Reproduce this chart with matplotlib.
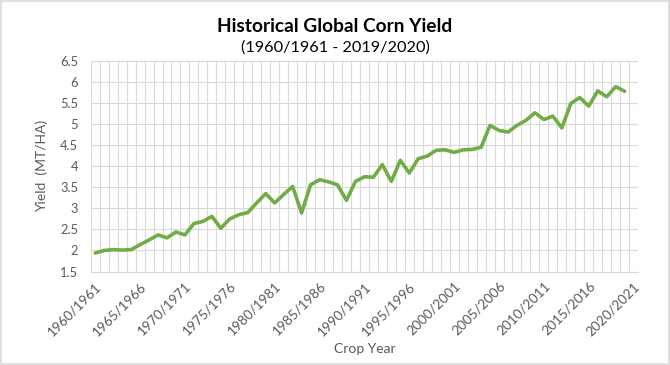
import matplotlib
matplotlib.use("Agg")
import matplotlib.pyplot as plt
from matplotlib.patches import Rectangle

plt.rcParams['font.family'] = ['Lato', 'DejaVu Sans']

crop_years = [f"{y}/{y+1}" for y in range(1960, 2021)]
yield_values = [1.94, 2.00, 2.02, 2.01, 2.02, 2.14, 2.25, 2.37, 2.30, 2.44,
                2.37, 2.64, 2.69, 2.81, 2.53, 2.75, 2.85, 2.90, 3.13, 3.35,
                3.13, 3.33, 3.52, 2.89, 3.56, 3.68, 3.63, 3.56, 3.19, 3.64,
                3.75, 3.74, 4.04, 3.64, 4.14, 3.84, 4.18, 4.24, 4.38, 4.39,
                4.33, 4.39, 4.40, 4.45, 4.97, 4.85, 4.81, 4.97, 5.09, 5.27,
                5.11, 5.19, 4.91, 5.49, 5.63, 5.43, 5.79, 5.65, 5.89, 5.78]
y_ticks = [1.5, 2, 2.5, 3, 3.5, 4, 4.5, 5, 5.5, 6, 6.5]
label_step = 5

fig = plt.figure(figsize=(6.7, 3.65), dpi=100)
ax = fig.add_axes([0.1354, 0.256, 0.817, 0.577])

n_cat = len(crop_years)
xs = [i + 0.5 for i in range(len(yield_values))]
ax.plot(xs, yield_values, color='#70AD47', linewidth=2.6, solid_capstyle='round',
        solid_joinstyle='round', zorder=3)

ax.set_xlim(0, n_cat)
ax.set_ylim(y_ticks[0], y_ticks[-1])
ax.set_yticks(y_ticks)
ax.set_yticklabels([f"{v:g}" for v in y_ticks])
ax.grid(axis='y', color='#D9D9D9', linewidth=0.8, zorder=0)
for b in range(n_cat + 1):
    ax.axvline(b, color='#D9D9D9', linewidth=0.8, zorder=0)

tick_pos = [i + 0.5 for i in range(0, n_cat, label_step)]
ax.set_xticks(tick_pos)
ax.set_xticklabels([crop_years[i] for i in range(0, n_cat, label_step)],
                   rotation=45, ha='right', va='top', rotation_mode='anchor')
ax.tick_params(axis='both', length=0, colors='#595959')
ax.tick_params(axis='x', labelsize=9.8, pad=6)
ax.tick_params(axis='y', labelsize=9.3, pad=9)

for s in ['top', 'right', 'left']:
    ax.spines[s].set_visible(False)
ax.spines['bottom'].set_color('#D9D9D9')
ax.spines['bottom'].set_linewidth(0.8)

ax.set_xlabel('Crop Year', fontsize=10, color='#595959', labelpad=4)
ax.set_ylabel('Yield  (MT/HA)', fontsize=10, color='#595959', labelpad=9)

fig.text(0.5, 0.927, 'Historical Global Corn Yield', ha='center', va='center',
         fontsize=13.8, fontweight='bold', color='#000000')
fig.text(0.5, 0.870, '(1960/1961 - 2019/2020)', ha='center', va='center',
         fontsize=11.7, color='#000000')

fig.patches.append(Rectangle((0.002, 0.003), 0.996, 0.994, transform=fig.transFigure,
                             fill=False, edgecolor='#D9D9D9', linewidth=1.2))

fig.savefig('out.png', dpi=100)
